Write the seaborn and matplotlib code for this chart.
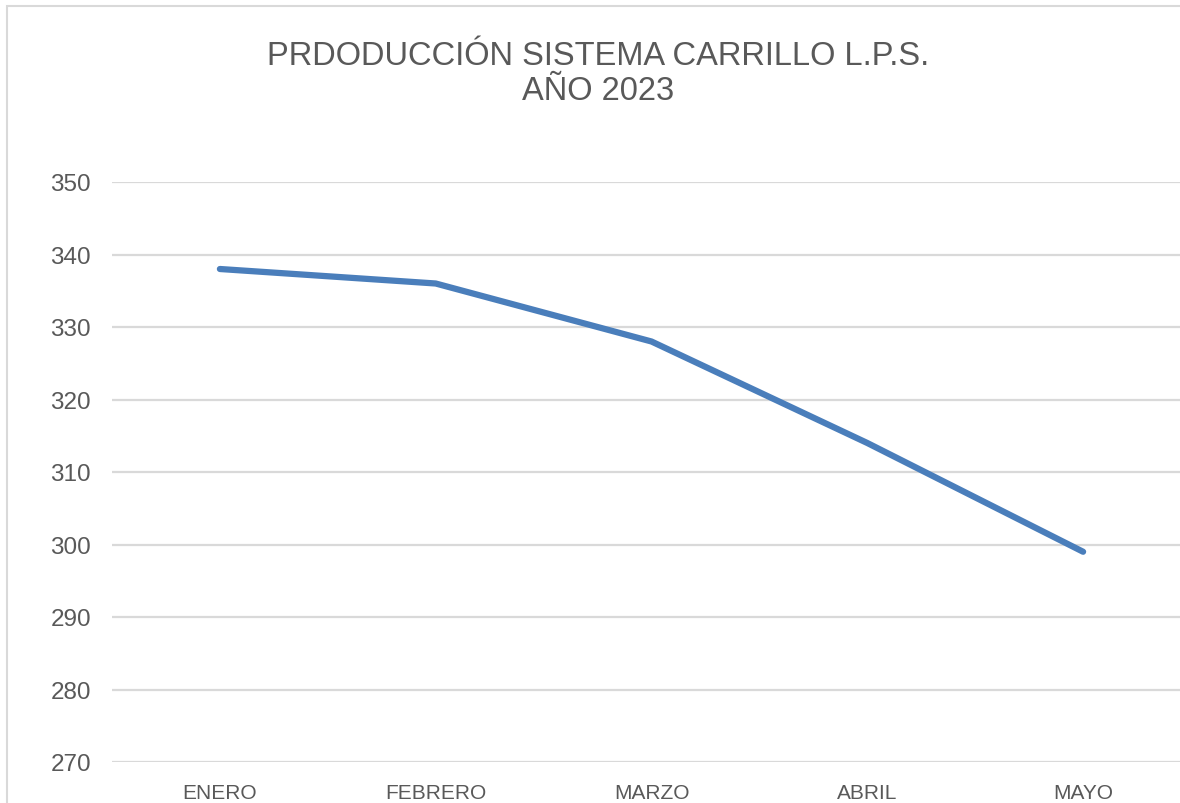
import matplotlib
matplotlib.use("Agg")
import matplotlib.pyplot as plt
import seaborn as sns
import pandas as pd
from matplotlib.patches import Rectangle

months = ["ENERO", "FEBRERO", "MARZO", "ABRIL", "MAYO"]
production = [338, 336, 328, 314, 299]
y_ticks = [270, 280, 290, 300, 310, 320, 330, 340, 350]
title_text = "PRDODUCCIÓN SISTEMA CARRILLO L.P.S.\nAÑO 2023"

sns.set_theme(style="white")
plt.rcParams['font.family'] = ['Liberation Sans', 'DejaVu Sans']

df = pd.DataFrame({"mes": months, "prod": production})
df["x"] = range(len(months))

fig = plt.figure(figsize=(11.8, 8.04), dpi=100)
fig.patches.append(Rectangle((7/1180, -0.1), 1.2, (804-7)/804 + 0.1, transform=fig.transFigure,
                             fill=False, edgecolor="#d9d9d9", linewidth=1.5))
ax = fig.add_axes([112/1180, 41/804, (1191-112)/1180, (763-183)/804])

sns.lineplot(data=df, x="x", y="prod", ax=ax, color="#4a7ebb", linewidth=4.5,
             solid_capstyle="round", solid_joinstyle="round", zorder=3)

ax.set_xlim(-0.5, 4.5)
ax.set_ylim(270, 350)
ax.set_yticks(y_ticks)
ax.set_xticks(range(len(months)))
ax.set_xticklabels(months)
ax.set_xlabel("")
ax.set_ylabel("")
for s in ax.spines.values():
    s.set_visible(False)
ax.grid(axis="y", color="#d9d9d9", linewidth=1.6)
ax.grid(axis="x", visible=False)
ax.tick_params(axis="both", length=0, colors="#595959")
ax.tick_params(axis="y", pad=15, labelsize=17.5)
ax.tick_params(axis="x", pad=15, labelsize=15)

fig.text(598/1180, 1 - 74/804, title_text, ha="center", va="center", fontsize=23.5,
         color="#595959", linespacing=1.15)

fig.savefig("out.png", dpi=100)
